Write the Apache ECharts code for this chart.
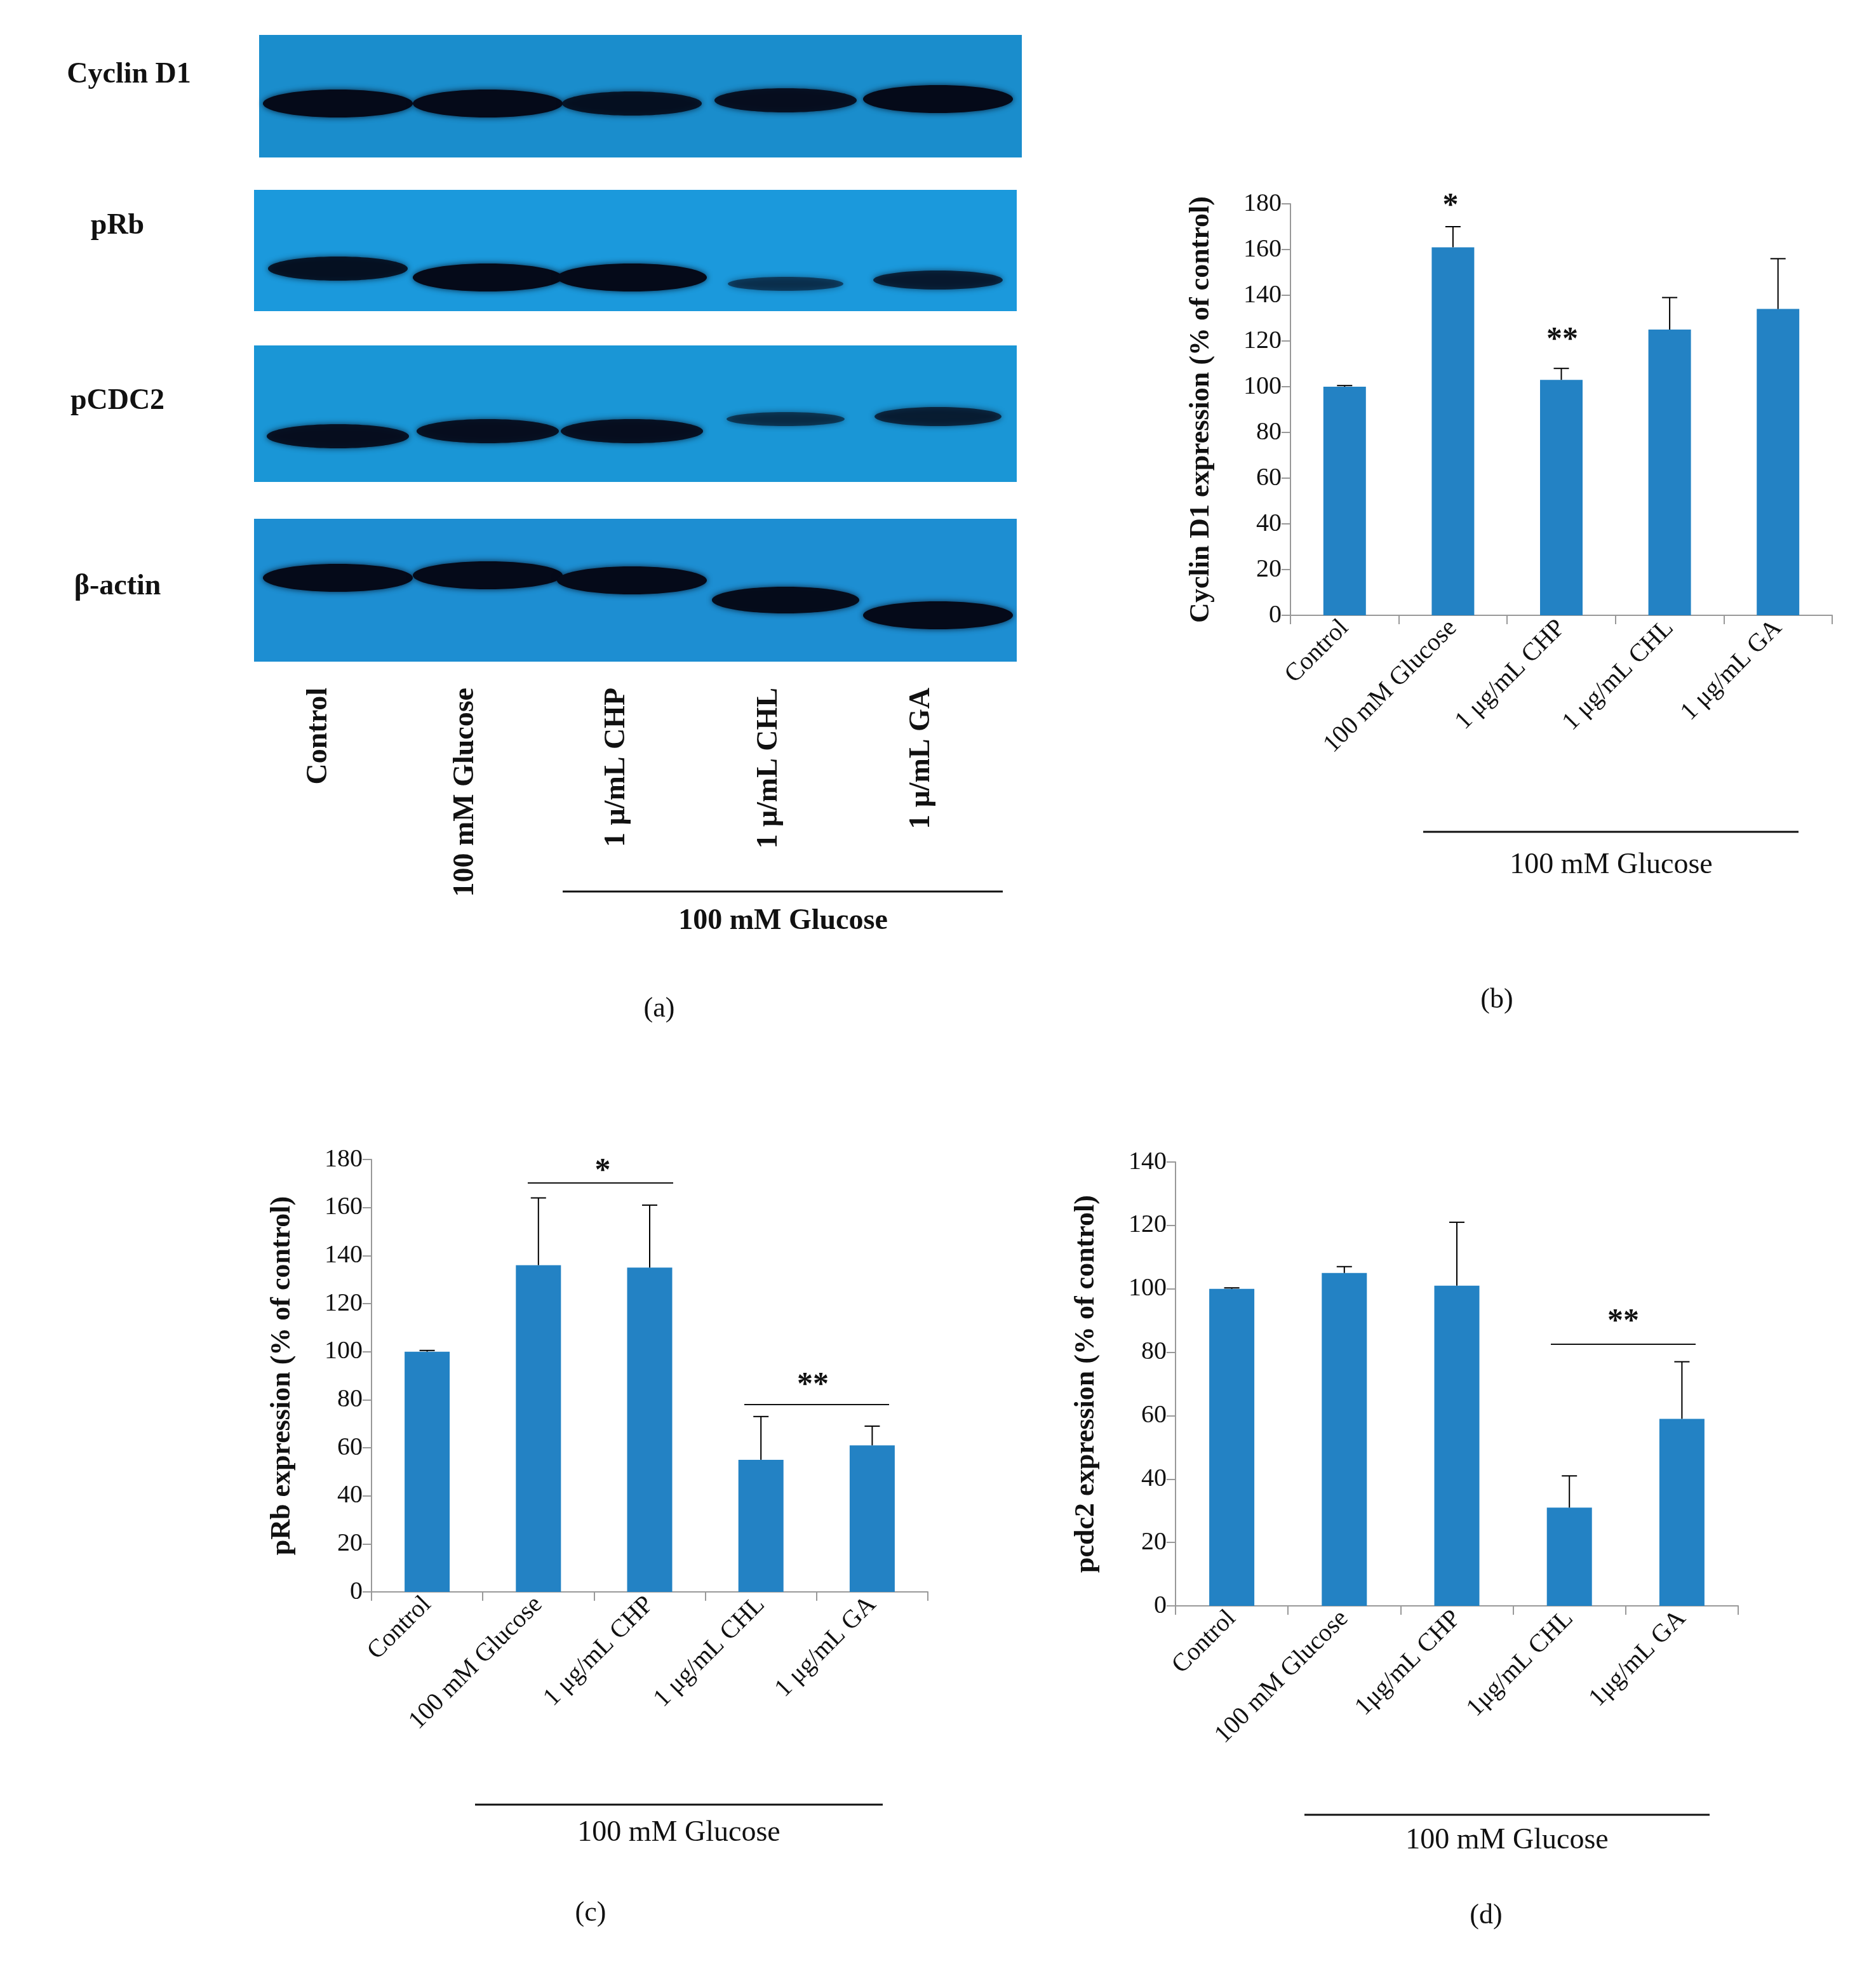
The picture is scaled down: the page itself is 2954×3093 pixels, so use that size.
<!DOCTYPE html>
<html>
<head>
<meta charset="utf-8">
<script src="https://cdn.jsdelivr.net/npm/echarts@6/dist/echarts.min.js"></script>
<style>html,body{margin:0;padding:0;background:#fff}#c{width:2954px;height:3093px}</style>
</head>
<body>
<div id="c"></div>
<script>
var s = 2954 / 1500;
function S(v) { return Math.round(v * s); }

// data
var catsB = ['Control', '100 mM Glucose', '1 μg/mL CHP', '1 μg/mL CHL', '1 μg/mL GA'];
var valsB = [100, 161, 103, 125, 134];
var errB = [100.5, 170, 108, 139, 156];
var catsC = ['Control', '100 mM Glucose', '1 μg/mL CHP', '1 μg/mL CHL', '1 μg/mL GA'];
var valsC = [100, 136, 135, 55, 61];
var errC = [100.5, 164, 161, 73, 69];
var catsD = ['Control', '100 mM Glucose', '1μg/mL CHP', '1μg/mL CHL', '1μg/mL GA'];
var valsD = [100, 105, 101, 31, 59];
var errD = [100.3, 107, 121, 41, 77];
var laneLabels = ['Control', '100 mM Glucose', '1 μ/mL CHP', '1 μ/mL CHL', '1 μ/mL GA'];
var blotNames = ['Cyclin D1', 'pRb', 'pCDC2', 'β-actin'];
// band intensity per lane (0..1) read from the blot
var cyclinBands = [1, 1, 0.8, 0.85, 1];
var prbBands = [0.8, 1, 1, 0.3, 0.6];
var cdc2Bands = [0.85, 0.85, 0.85, 0.35, 0.55];
var actinBands = [1, 1, 1, 0.95, 1];

var chart = echarts.init(document.getElementById('c'));
var serif = 'Liberation Serif';
var barColor = '#2382c4';

var grids = [
  { left: S(1032), top: S(163), width: S(433), height: S(329) },
  { left: S(297), top: S(927), width: S(445), height: S(346) },
  { left: S(940), top: S(929), width: S(450), height: S(355) }
];
var maxes = [180, 180, 140];
var cats = [catsB, catsC, catsD];
var vals = [valsB, valsC, valsD];
var errs = [errB, errC, errD];
var ynames = ['Cyclin D1 expression (% of control)', 'pRb expression (% of control)', 'pcdc2 expression (% of control)'];

var xAxes = [], yAxes = [], series = [];
for (var i = 0; i < 3; i++) {
  xAxes.push({
    type: 'category', gridIndex: i, data: cats[i],
    axisLine: { lineStyle: { color: '#999', width: 2 } },
    axisTick: { show: true, alignWithLabel: false, length: 14, lineStyle: { color: '#999', width: 2 } },
    axisLabel: { rotate: 45, interval: 0, fontFamily: serif, fontSize: 40, color: '#111', margin: 14 }
  });
  yAxes.push({
    type: 'value', gridIndex: i, min: 0, max: maxes[i], interval: 20,
    name: ynames[i], nameLocation: 'middle', nameGap: S(60),
    nameTextStyle: { fontFamily: serif, fontWeight: 'bold', fontSize: 44, color: '#111' },
    axisLine: { show: true, lineStyle: { color: '#999', width: 2 } },
    axisTick: { show: true, length: 14, lineStyle: { color: '#999', width: 2 } },
    splitLine: { show: false },
    axisLabel: { fontFamily: serif, fontSize: 40, color: '#111', margin: 14 }
  });
  series.push({
    type: 'bar', xAxisIndex: i, yAxisIndex: i, data: vals[i],
    barWidth: i === 0 ? S(34) : S(36),
    itemStyle: { color: barColor }
  });
  series.push({
    type: 'custom', xAxisIndex: i, yAxisIndex: i, z: 5,
    data: vals[i].map(function (v, k) { return [k, v, errs[i][k]]; }),
    renderItem: function (params, api) {
      var p0 = api.coord([api.value(0), api.value(1)]);
      var p1 = api.coord([api.value(0), api.value(2)]);
      var hw = S(6);
      return {
        type: 'group', children: [
          { type: 'line', shape: { x1: p0[0], y1: p0[1], x2: p1[0], y2: p1[1] }, style: { stroke: '#000', lineWidth: 2 } },
          { type: 'line', shape: { x1: p1[0] - hw, y1: p1[1], x2: p1[0] + hw, y2: p1[1] }, style: { stroke: '#000', lineWidth: 2 } }
        ]
      };
    }
  });
}

var g = [];
function txt(x, y, t, o) {
  o = o || {};
  g.push({
    type: 'text', x: S(x), y: S(y), rotation: o.rot || 0,
    style: {
      text: t, fontFamily: serif, fontSize: o.size || 46, fontWeight: o.bold ? 'bold' : 'normal',
      fill: '#111', align: o.align || 'center', verticalAlign: 'middle'
    }
  });
}
function hline(x1, x2, y, w) {
  g.push({ type: 'line', shape: { x1: S(x1), y1: S(y), x2: S(x2), y2: S(y) }, style: { stroke: '#111', lineWidth: w || 3 } });
}

// panel (a) blots
var blots = [
  { x: 207, y: 28, w: 610, h: 98, band: 83, bands: cyclinBands, color: '#1a8dcc' },
  { x: 203, y: 152, w: 610, h: 97, band: 222, bands: prbBands, color: '#1b99dc' },
  { x: 203, y: 276, w: 610, h: 109, band: 345, bands: cdc2Bands, color: '#1a96d6' },
  { x: 203, y: 415, w: 610, h: 114, band: 470, bands: actinBands, color: '#1d8ed2' }
];
var lanes = [270, 390, 505, 628, 750];
var laneShift = [[0, 0, 0, -3, -4], [-7, 0, 0, 5, 2], [4, 0, 0, -10, -12], [-8, -10, -6, 10, 22]];
blots.forEach(function (b, bi) {
  g.push({ type: 'rect', shape: { x: S(b.x), y: S(b.y), width: S(b.w), height: S(b.h) }, style: { fill: b.color } });
  b.bands.forEach(function (v, li) {
    g.push({
      type: 'ellipse',
      shape: { cx: S(lanes[li]), cy: S(b.band + laneShift[bi][li]), rx: S(40 + 20 * v), ry: S(3 + 8 * v) },
      style: { fill: 'rgba(5,10,25,' + (0.35 + 0.65 * v) + ')', shadowBlur: S(5), shadowColor: 'rgba(5,10,25,0.8)' }
    });
  });
  txt(bi === 0 ? 103 : 94, [60, 181, 321, 469][bi], blotNames[bi], { bold: true, size: 46 });
});
var laneLabelX = [255, 372, 493, 615, 737];
laneLabels.forEach(function (t, k) {
  txt(laneLabelX[k], 550, t, { bold: true, rot: Math.PI / 2, align: 'right', size: 46 });
});
hline(450, 802, 713);
txt(626, 737, '100 mM Glucose', { bold: true });
txt(527, 807, '(a)', { size: 44 });

// panel (b)
txt(1160, 165, '*', { bold: true, size: 50 });
txt(1249, 272, '**', { bold: true, size: 50 });
hline(1138, 1438, 665);
txt(1288, 692, '100 mM Glucose');
txt(1197, 800, '(b)', { size: 44 });

// panel (c)
hline(422, 538, 946, 2);
txt(482, 937, '*', { bold: true, size: 50 });
hline(595, 711, 1123, 2);
txt(650, 1108, '**', { bold: true, size: 50 });
hline(380, 706, 1443);
txt(543, 1466, '100 mM Glucose');
txt(472, 1530, '(c)', { size: 44 });

// panel (d)
hline(1240, 1356, 1075, 2);
txt(1298, 1057, '**', { bold: true, size: 50 });
hline(1043, 1367, 1451);
txt(1205, 1472, '100 mM Glucose');
txt(1188, 1532, '(d)', { size: 44 });

chart.setOption({
  backgroundColor: '#fff',
  animation: false,
  grid: grids,
  xAxis: xAxes,
  yAxis: yAxes,
  series: series,
  graphic: g
});
</script>
</body>
</html>
